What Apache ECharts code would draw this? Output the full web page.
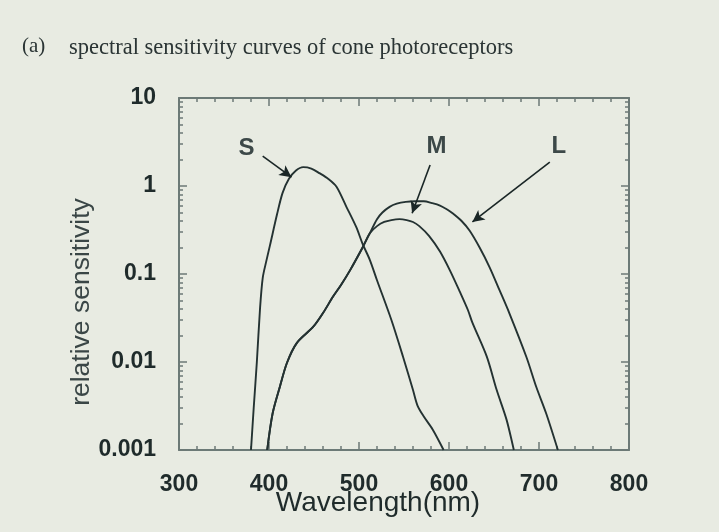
<!DOCTYPE html>
<html>
<head>
<meta charset="utf-8">
<script src="https://cdn.jsdelivr.net/npm/echarts@6/dist/echarts.min.js"></script>
<style>html,body{margin:0;padding:0;background:#e8ebe2;}#c{width:719px;height:532px;}</style>
</head>
<body>
<div id="c"></div>
<script>
// ---- data ----
const xTicks = [300, 400, 500, 600, 700, 800];
const yTicks = [0.001, 0.01, 0.1, 1, 10];

const sWl  = [380, 383, 386.5, 390, 393, 397, 401, 409, 415, 422, 430, 438, 447, 456, 466, 475, 486, 497, 504, 512, 520, 536, 549, 560, 565, 572, 582, 594];
const sVal = [0.001, 0.003, 0.01, 0.04, 0.09, 0.14, 0.21, 0.48, 0.83, 1.2, 1.5, 1.64, 1.58, 1.4, 1.2, 0.98, 0.58, 0.34, 0.22, 0.145, 0.085, 0.030, 0.0114, 0.0048, 0.0032, 0.0024, 0.0017, 0.001];

const mWl  = [398, 404, 412, 420, 431, 449, 460, 471, 480, 490, 504, 512, 520, 528, 536, 545, 553, 560, 567, 578, 590, 601, 612, 621, 626, 642, 653, 664, 672];
const mVal = [0.001, 0.0026, 0.0052, 0.0098, 0.0165, 0.025, 0.036, 0.055, 0.075, 0.11, 0.2, 0.29, 0.35, 0.39, 0.41, 0.42, 0.41, 0.39, 0.35, 0.27, 0.18, 0.11, 0.063, 0.039, 0.028, 0.0115, 0.0048, 0.0022, 0.001];

const lWl  = [398, 404, 412, 420, 431, 449, 460, 471, 480, 490, 504, 512, 520, 526, 534, 542, 552, 562, 572, 581, 590, 598, 604, 614, 623, 634, 645, 656, 667, 686, 697, 708, 721];
const lVal = [0.001, 0.0026, 0.0052, 0.0098, 0.0165, 0.025, 0.036, 0.055, 0.075, 0.11, 0.2, 0.29, 0.42, 0.50, 0.58, 0.63, 0.66, 0.67, 0.67, 0.64, 0.60, 0.54, 0.49, 0.40, 0.31, 0.2, 0.12, 0.066, 0.036, 0.0114, 0.0052, 0.0026, 0.001];

// curve labels and their pointer arrows (data coordinates)
const labelNames = ['S', 'M', 'L'];
const labelPos   = [[375, 2.7], [586, 2.8], [722, 2.8]];
const arrowFrom  = [[393, 2.19], [579, 1.73], [712, 1.87]];
const arrowTo    = [[425, 1.26], [559, 0.49], [626, 0.39]];

// ---- chart ----
const pairs = (xs, ys) => xs.map((x, i) => [x, ys[i]]);
const lineCol = '#243232';
const axisCol = '#6c7a77';
const textCol = '#1f2b2b';

const axisCommonX = {
  type: 'value', min: 300, max: 800, interval: 100,
  axisLine: { show: true, lineStyle: { color: axisCol, width: 2 } },
  axisTick: { show: true, inside: true, length: 8, lineStyle: { color: axisCol, width: 1.5 } },
  minorTick: { show: true, splitNumber: 5, length: 4, lineStyle: { color: axisCol, width: 1.5 } },
  splitLine: { show: false }
};
const axisCommonY = {
  type: 'log', logBase: 10, min: 0.001, max: 10,
  axisLine: { show: true, lineStyle: { color: axisCol, width: 2 } },
  axisTick: { show: true, inside: true, length: 8, lineStyle: { color: axisCol, width: 1.5 } },
  minorTick: { show: true, splitNumber: 9, length: 4, lineStyle: { color: axisCol, width: 1.5 } },
  splitLine: { show: false }
};

const markLines = labelNames.map((n, i) => [
  { coord: arrowFrom[i] }, { coord: arrowTo[i] }
]);
const markPoints = labelNames.map((n, i) => ({ name: n, coord: labelPos[i], value: n }));

const chart = echarts.init(document.getElementById('c'));
chart.setOption({
  backgroundColor: '#e8ebe2',
  animation: false,
  title: [
    { text: '(a)', left: 17, top: 31, textStyle: { fontFamily: 'Liberation Serif', fontWeight: 'normal', fontSize: 21, color: '#2a3434' } },
    { text: 'spectral sensitivity curves of cone photoreceptors', left: 64, top: 32,
      textStyle: { fontFamily: 'Liberation Serif', fontWeight: 'normal', fontSize: 22.5, color: '#2a3434' } }
  ],
  grid: { left: 179, right: 90, top: 98, bottom: 82 },
  xAxis: [
    Object.assign({}, axisCommonX, {
      position: 'bottom',
      name: 'Wavelength(nm)', nameLocation: 'middle', nameGap: 39, nameMoveOverlap: false,
      nameTextStyle: { fontFamily: 'Liberation Sans', fontSize: 28, color: textCol, padding: [0, 52, 0, 0] },
      axisLabel: { show: true, margin: 23, fontFamily: 'Liberation Sans', fontSize: 23, fontWeight: 'bold', color: textCol,
        formatter: v => (xTicks.indexOf(v) >= 0 ? String(v) : '') }
    }),
    Object.assign({}, axisCommonX, { position: 'top', axisLabel: { show: false } })
  ],
  yAxis: [
    Object.assign({}, axisCommonY, {
      position: 'left',
      name: 'relative sensitivity', nameLocation: 'middle', nameGap: 84, nameRotate: 90, nameMoveOverlap: false,
      nameTextStyle: { fontFamily: 'Liberation Sans', fontSize: 26.5, color: '#3a4646', padding: [0, 56, 0, 0] },
      axisLabel: { show: true, margin: 23, fontFamily: 'Liberation Sans', fontSize: 23, fontWeight: 'bold', color: textCol,
        formatter: v => { const t = yTicks.find(k => Math.abs(k - v) / k < 1e-6); return t === undefined ? '' : String(t); } }
    }),
    Object.assign({}, axisCommonY, { position: 'right', axisLabel: { show: false } })
  ],
  series: [
    { name: 'S', type: 'line', data: pairs(sWl, sVal), showSymbol: false, smooth: 0.3,
      lineStyle: { color: lineCol, width: 1.9 }, clip: true,
      markLine: { silent: true, symbol: ['none', 'arrow'], symbolSize: [9, 12],
        lineStyle: { color: '#1a2626', width: 1.6, type: 'solid' }, label: { show: false },
        data: markLines },
      markPoint: { symbol: 'circle', symbolSize: 0,
        label: { show: true, position: 'inside', formatter: p => p.name, fontFamily: 'Liberation Sans', fontSize: 24, fontWeight: 'bold', color: '#3c4848' },
        data: markPoints } },
    { name: 'M', type: 'line', data: pairs(mWl, mVal), showSymbol: false, smooth: 0.3,
      lineStyle: { color: lineCol, width: 1.9 }, clip: true },
    { name: 'L', type: 'line', data: pairs(lWl, lVal), showSymbol: false, smooth: 0.3,
      lineStyle: { color: lineCol, width: 1.9 }, clip: true }
  ]
});
</script>
</body>
</html>
